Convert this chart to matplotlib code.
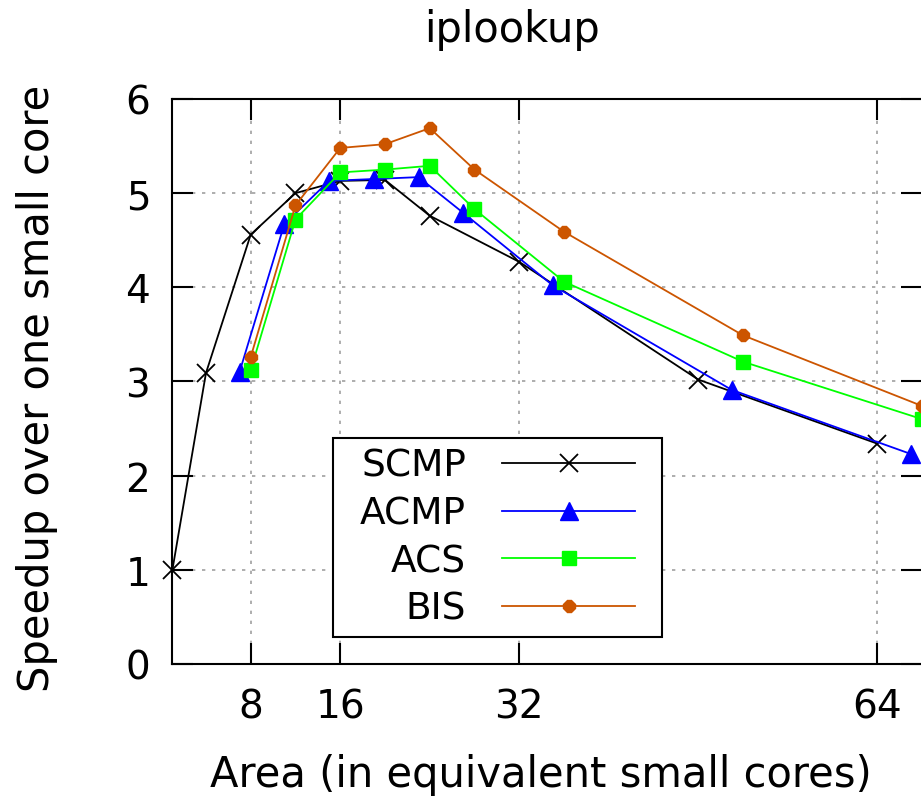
import matplotlib
matplotlib.use('Agg')
import matplotlib.pyplot as plt
from matplotlib.path import Path

# speedup data
scmp_x = [1, 4, 8, 12, 16, 20, 24, 32, 48, 64]
scmp_y = [1.00, 3.09, 4.56, 5.00, 5.13, 5.14, 4.76, 4.27, 3.02, 2.34]

acmp_x = [7, 11, 15, 19, 23, 27, 35, 51, 67]
acmp_y = [3.10, 4.67, 5.13, 5.15, 5.17, 4.79, 4.02, 2.91, 2.23]

acs_x = [8, 12, 16, 20, 24, 28, 36, 52, 68]
acs_y = [3.12, 4.72, 5.22, 5.25, 5.29, 4.83, 4.06, 3.21, 2.60]

bis_x = [8, 12, 16, 20, 24, 28, 36, 52, 68]
bis_y = [3.26, 4.87, 5.48, 5.52, 5.69, 5.25, 4.59, 3.49, 2.74]

x_ticks = [8, 16, 32, 64]
y_ticks = [0, 1, 2, 3, 4, 5, 6]

plt.rcParams['font.family'] = 'DejaVu Sans'

fig = plt.figure(figsize=(9.21, 8.03), dpi=100)
ax = fig.add_axes([0.1872, 0.1719, 0.8139, 0.7036])

ax.plot(scmp_x, scmp_y, color='black', lw=1.3, marker='x', ms=13, mew=1.3, label='SCMP', clip_on=False, zorder=3)
ax.plot(acmp_x, acmp_y, color='#0000ff', lw=1.3, marker='^', ms=13, label='ACMP', clip_on=False, zorder=3)
ax.plot(acs_x, acs_y, color='#00ff00', lw=1.3, marker='s', ms=10, label='ACS', clip_on=False, zorder=3)
ax.plot(bis_x, bis_y, color='#cc5500', lw=1.3, marker='8', ms=9, label='BIS', clip_on=False, zorder=3)

ax.set_xlim(1, 68)
ax.set_ylim(0, 6)
ax.set_xticks(x_ticks)
ax.set_yticks(y_ticks)
ax.tick_params(direction='in', length=15, width=1.5, top=True, right=True, labelsize=28)
ax.tick_params(axis='x', pad=17)
ax.tick_params(axis='y', pad=16)
ax.grid(True, color='#a0a0a0', linestyle=(0, (2, 4)), lw=1.2, zorder=0)
for s in ax.spines.values():
    s.set_linewidth(1.5)

fig.text(512 / 921, 1 - 30 / 803, 'iplookup', ha='center', va='center', fontsize=30)
fig.text(37 / 921, 1 - 388 / 803, 'Speedup over one small core', rotation=90,
         ha='center', va='center', fontsize=30)
fig.text(541 / 921, 1 - 775 / 803, 'Area (in equivalent small cores)',
         ha='center', va='center', fontsize=30)

leg = ax.legend(loc='upper left', bbox_to_anchor=(360 / 921, 1 - 449 / 803),
                bbox_transform=fig.transFigure, markerfirst=False, fontsize=27,
                handlelength=3.55, handletextpad=0.96, labelspacing=0.31,
                borderpad=0, borderaxespad=0, fancybox=False, framealpha=1,
                edgecolor='black', numpoints=1)
leg.get_frame().set_linewidth(1.5)


# gnuplot style key box: wide side padding, tight top/bottom
def key_box(x0, y0, width, height, mutation_size):
    px, py = 0.72 * mutation_size, 0.27 * mutation_size
    x0, y0 = x0 - px, y0 - py
    x1, y1 = x0 + width + 2 * px, y0 + height + 2 * py
    return Path([(x0, y0), (x1, y0), (x1, y1), (x0, y1), (x0, y0)], closed=True)


leg.legendPatch.set_boxstyle(key_box)

fig.savefig('out.png', dpi=100)
